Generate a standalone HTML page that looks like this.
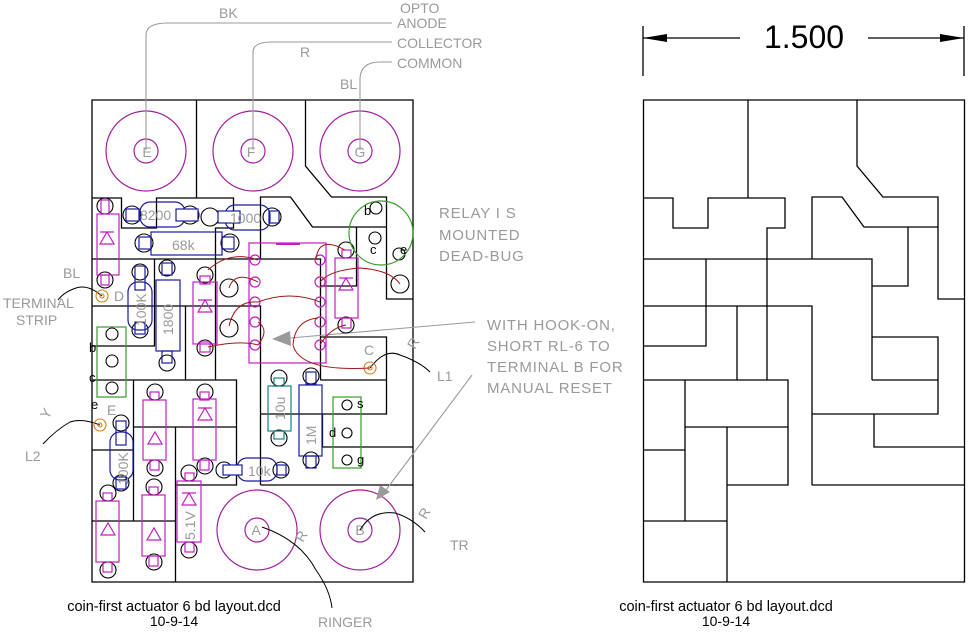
<!DOCTYPE html>
<html><head><meta charset="utf-8"><style>
html,body{margin:0;padding:0;background:#fff;}
svg{display:block;}
text{font-family:"Liberation Sans",sans-serif;}
.g{fill:#9a9a9a;font-size:14px;}
.lbl{fill:#9a9a9a;font-size:15px;letter-spacing:0.8px;}
</style></head><body>
<svg width="968" height="632" viewBox="0 0 968 632" xmlns="http://www.w3.org/2000/svg">
<defs>
<g id="outline" fill="none" stroke="#000" stroke-width="1.3">
<path d="M643.5,100 H964.5 V582 H643.5 Z"/>
<path d="M748,100 V198"/>
<path d="M857,100 V166 L883,197 H938 V299 H964.5"/>
<path d="M643.5,198 H673 V228 H708 V198 H785 V228 H767 V380"/>
<path d="M812,259 V197 H842 L864,227 H938"/>
<path d="M908,227 V286 H872"/>
<path d="M643.5,259 H872 V380"/>
<path d="M706,259 V346 H643.5"/>
<path d="M643.5,306 H812 V485"/>
<path d="M737,306 V380"/>
<path d="M643.5,380 H788 V485 H727"/>
<path d="M872,337 H938 V414 H812"/>
<path d="M872,380 H938"/>
<path d="M874,414 V447 H964.5"/>
<path d="M812,485 H964.5"/>
<path d="M685,380 V521"/>
<path d="M685,427 H788"/>
<path d="M727,427 V582"/>
<path d="M643.5,450 H685"/>
<path d="M643.5,521 H727"/>
</g>
</defs>

<!-- RIGHT BOARD -->
<use href="#outline"/>
<g stroke="#000" stroke-width="1.3" fill="#000">
<line x1="643" y1="26" x2="643" y2="76"/>
<line x1="964" y1="26" x2="964" y2="76"/>
<line x1="643" y1="38" x2="740" y2="38"/>
<line x1="868" y1="38" x2="964" y2="38"/>
<path d="M643,38 L667,34 L667,42 Z" stroke="none"/>
<path d="M964,38 L940,34 L940,42 Z" stroke="none"/>
</g>
<text x="804" y="48" font-size="32" text-anchor="middle" fill="#000">1.500</text>
<text x="726" y="611" font-size="14.5" text-anchor="middle" fill="#000">coin-first actuator 6 bd layout.dcd</text>
<text x="726" y="626" font-size="14" text-anchor="middle" fill="#000">10-9-14</text>

<!-- LEFT BOARD -->
<use href="#outline" transform="translate(-551.5,0)"/>
<text x="174" y="611" font-size="14.5" text-anchor="middle" fill="#000">coin-first actuator 6 bd layout.dcd</text>
<text x="174" y="626" font-size="14" text-anchor="middle" fill="#000">10-9-14</text>

<!-- big terminal circles -->
<g fill="none" stroke="#a020a0" stroke-width="1.2">
<circle cx="146" cy="151" r="40"/><circle cx="146" cy="151" r="12"/>
<circle cx="253" cy="151" r="40"/><circle cx="253" cy="151" r="12"/>
<circle cx="360" cy="151" r="40"/><circle cx="360" cy="151" r="12"/>
<circle cx="257" cy="530" r="40"/><circle cx="257" cy="530" r="12"/>
<circle cx="360" cy="530" r="40"/><circle cx="360" cy="530" r="12"/>
</g>
<g class="g" text-anchor="middle" font-size="14">
<text x="147" y="157">E</text><text x="251" y="157">F</text><text x="360" y="157">G</text>
<text x="256" y="535">A</text><text x="360" y="535">B</text>
</g>

<!-- gray leaders top -->
<g fill="none" stroke="#9a9a9a" stroke-width="1.1">
<path d="M146,150 V35 Q146,23 168,23 H392"/>
<path d="M253,150 V52 Q253,42 272,42 H392"/>
<path d="M360,150 V78 Q361,62 380,62 H392"/>
<path d="M475,322 L290,338"/>
<path d="M472,375 L380,498"/>
</g>
<path d="M272,339 L290,331 L291,346 Z" fill="#9a9a9a"/>
<path d="M376,500 L380,485 L390,492 Z" fill="#9a9a9a"/>
<g class="g">
<text x="219" y="18">BK</text>
<text x="400" y="13">OPTO</text>
<text x="397" y="28">ANODE</text>
<text x="397" y="48">COLLECTOR</text>
<text x="397" y="68">COMMON</text>
<text x="300" y="57">R</text>
<text x="340" y="89">BL</text>
<text x="63" y="278">BL</text>
<text x="3" y="308">TERMINAL</text>
<text x="16" y="325">STRIP</text>
<text x="25" y="461">L2</text>
<text x="437" y="381">L1</text>
<text x="450" y="550">TR</text>
<text x="318" y="627">RINGER</text>
<text x="114" y="301">D</text>
<text x="107" y="415">E</text>
<text x="364" y="355">C</text>
<text transform="translate(48,420) rotate(-60)">Y</text>
<text transform="translate(415,350) rotate(-60)">R</text>
<text transform="translate(426,520) rotate(-60)">R</text>
<text transform="translate(303,543) rotate(-60)">R</text>
</g>
<g class="lbl">
<text x="439" y="218">RELAY I S</text>
<text x="439" y="240">MOUNTED</text>
<text x="439" y="261">DEAD-BUG</text>
<text x="487" y="330">WITH HOOK-ON,</text>
<text x="487" y="351">SHORT RL-6 TO</text>
<text x="487" y="372">TERMINAL B FOR</text>
<text x="487" y="393">MANUAL RESET</text>
</g>

<!-- black leader curves -->
<g fill="none" stroke="#000" stroke-width="1">
<path d="M102,296 Q88,284 76,288 Q64,292 58,300"/>
<path d="M100,425 Q82,418 70,422 Q56,430 43,444"/>
<path d="M370,368 Q385,348 400,355 Q420,362 430,372"/>
<path d="M360,530 Q372,510 395,513 Q412,518 425,532"/>
<path d="M262,527 Q300,540 316,570 Q330,590 332,608"/>
</g>

<!-- pads -->
<g fill="none" stroke="#000" stroke-width="1.1">
<circle cx="132" cy="215" r="9"/><circle cx="190" cy="215" r="9"/>
<circle cx="210" cy="217" r="9"/><circle cx="272" cy="217" r="9"/>
<circle cx="144" cy="243" r="9"/><circle cx="230" cy="243" r="9"/>
<circle cx="105" cy="206" r="8"/><circle cx="105" cy="280" r="8"/>
<circle cx="140" cy="272" r="8"/><circle cx="140" cy="330" r="8"/>
<circle cx="167" cy="268" r="8"/><circle cx="167" cy="363" r="8"/>
<circle cx="205" cy="275" r="8"/><circle cx="205" cy="348" r="8"/>
<circle cx="229" cy="288" r="9"/><circle cx="229" cy="328" r="9"/>
<circle cx="346" cy="250" r="8"/><circle cx="346" cy="325" r="8"/>
<circle cx="400" cy="284" r="9"/>
<circle cx="376" cy="208" r="6"/><circle cx="375" cy="238" r="6"/><circle cx="399" cy="254" r="6"/>
<circle cx="112" cy="334" r="6"/><circle cx="112" cy="361" r="6"/><circle cx="112" cy="388" r="6"/>
<circle cx="279" cy="378" r="8"/><circle cx="279" cy="438" r="8"/>
<circle cx="311" cy="376" r="8"/><circle cx="311" cy="460" r="8"/>
<circle cx="347" cy="405" r="5"/><circle cx="347" cy="433" r="5"/><circle cx="347" cy="460" r="5"/>
<circle cx="155" cy="392" r="8"/><circle cx="155" cy="468" r="8"/>
<circle cx="205" cy="392" r="8"/><circle cx="205" cy="466" r="8"/>
<circle cx="121" cy="423" r="8"/><circle cx="121" cy="483" r="8"/>
<circle cx="108" cy="493" r="8"/><circle cx="108" cy="570" r="8"/>
<circle cx="154" cy="487" r="8"/><circle cx="154" cy="562" r="8"/>
<circle cx="189" cy="473" r="8"/><circle cx="189" cy="550" r="8"/>
<circle cx="224" cy="470" r="8"/><circle cx="281" cy="470" r="8"/>
</g>

<!-- blue resistors -->
<g fill="none" stroke="#1a1aa0" stroke-width="1.2">
<rect x="140" y="202" width="45" height="25" rx="10"/>
<rect x="126" y="209" width="13" height="12" fill="#fff"/><rect x="176" y="209" width="22" height="12" fill="#fff"/>
<rect x="225" y="205" width="45" height="25" rx="10"/>
<rect x="218" y="211" width="22" height="12" fill="#fff"/><rect x="269" y="211" width="10" height="12"/>
<rect x="151" y="232" width="71" height="23"/>
<rect x="139" y="237" width="12" height="12"/><rect x="222" y="237" width="12" height="12"/>
<rect x="128" y="282" width="24" height="48" rx="10"/>
<rect x="135" y="266" width="10" height="24"/><rect x="135" y="322" width="10" height="12"/>
<rect x="156" y="280" width="24" height="71"/>
<rect x="162" y="263" width="10" height="12"/><rect x="162" y="351" width="10" height="12"/>
<rect x="299" y="385" width="23" height="71"/>
<rect x="306" y="372" width="10" height="12"/><rect x="306" y="456" width="10" height="12"/>
<rect x="110" y="432" width="23" height="48" rx="10"/>
<rect x="116" y="421" width="10" height="24"/><rect x="116" y="477" width="10" height="12"/>
<rect x="237" y="458" width="40" height="23" rx="10"/>
<rect x="223" y="465" width="19" height="10" fill="#fff"/><rect x="277" y="465" width="9" height="10"/>
</g>
<g fill="none" stroke="#1a8080" stroke-width="1.2">
<rect x="268" y="386" width="23" height="45"/>
<rect x="274" y="378" width="10" height="8"/><rect x="274" y="431" width="10" height="8"/>
</g>
<g class="g" font-size="14">
<text x="140" y="220">8200</text>
<text x="230" y="223">1000</text>
<text x="172" y="250">68k</text>
<text x="248" y="476">10k</text>
<text transform="translate(146,326) rotate(-90)">100K</text>
<text transform="translate(173,335) rotate(-90)">1800</text>
<text transform="translate(285,420) rotate(-90)">10u</text>
<text transform="translate(316,445) rotate(-90)">1M</text>
<text transform="translate(128,485) rotate(-90)">100K</text>
<text transform="translate(195,540) rotate(-90)">5.1V</text>
</g>

<!-- magenta diodes -->
<g fill="none" stroke="#c020c0" stroke-width="1.2">
<rect x="97" y="214" width="22" height="61"/><rect x="101" y="200" width="8" height="14"/><rect x="101" y="275" width="8" height="10"/>
<path d="M100,244 L107,232 L114,244 Z M100,232 H114"/>
<rect x="193" y="282" width="24" height="62"/><rect x="200" y="276" width="10" height="8"/><rect x="200" y="342" width="10" height="10"/>
<path d="M198,312 L205,300 L212,312 Z M198,300 H212"/>
<rect x="335" y="258" width="23" height="60"/><rect x="342" y="250" width="9" height="8"/><rect x="342" y="318" width="9" height="10"/>
<path d="M339,290 L346,278 L353,290 Z M339,278 H353"/>
<rect x="143" y="400" width="23" height="60"/><rect x="150" y="392" width="9" height="8"/><rect x="150" y="460" width="9" height="10"/>
<path d="M148,444 L155,432 L162,444 Z M148,444 H162"/>
<rect x="193" y="399" width="23" height="61"/><rect x="200" y="392" width="9" height="8"/><rect x="200" y="460" width="9" height="10"/>
<path d="M198,420 L205,408 L212,420 Z M198,408 H212"/>
<rect x="96" y="501" width="23" height="61"/><rect x="103" y="493" width="9" height="8"/><rect x="103" y="562" width="9" height="10"/>
<path d="M101,535 L108,523 L115,535 Z M101,535 H115"/>
<rect x="142" y="495" width="23" height="61"/><rect x="149" y="487" width="9" height="8"/><rect x="149" y="556" width="9" height="10"/>
<path d="M147,540 L154,528 L161,540 Z M147,540 H161"/>
<rect x="177" y="481" width="24" height="61"/><rect x="185" y="473" width="9" height="8"/><rect x="185" y="542" width="9" height="10"/>
<path d="M182,505 L189,493 L196,505 Z M182,493 H196"/>
<!-- IC -->
<rect x="249" y="243" width="77" height="120"/>
<line x1="276" y1="244" x2="300" y2="244" stroke-width="2"/>
<circle cx="255" cy="260" r="5"/><circle cx="255" cy="282" r="5"/><circle cx="255" cy="302" r="5"/><circle cx="255" cy="322" r="5"/><circle cx="255" cy="345" r="5"/>
<circle cx="320" cy="260" r="5"/><circle cx="320" cy="282" r="5"/><circle cx="320" cy="302" r="5"/><circle cx="320" cy="322" r="5"/><circle cx="320" cy="345" r="5"/>
</g>

<!-- green parts -->
<g fill="none" stroke="#3a9a2a" stroke-width="1.2">
<circle cx="381" cy="233" r="32"/>
<rect x="97" y="327" width="29" height="70"/>
<rect x="333" y="397" width="28" height="71"/>
</g>
<g font-size="13" fill="#000">
<text x="364" y="215">b</text><text x="370" y="254">c</text><text x="400" y="254">e</text>
<text x="89" y="352">b</text><text x="89" y="382">c</text><text x="91" y="409">e</text>
<text x="357" y="408">s</text><text x="329" y="437">d</text><text x="357" y="464">g</text>
</g>

<!-- orange terminals -->
<g fill="none" stroke="#d08020" stroke-width="1.1">
<circle cx="102" cy="296" r="6"/><circle cx="102" cy="296" r="2"/>
<circle cx="370" cy="368" r="6"/><circle cx="370" cy="368" r="2"/>
<circle cx="100" cy="425" r="6"/><circle cx="100" cy="425" r="2"/>
</g>

<!-- red wires -->
<g fill="none" stroke="#a01818" stroke-width="1">
<path d="M208,270 Q230,250 258,260"/>
<path d="M229,288 Q235,270 258,282"/>
<path d="M229,326 Q235,300 258,302 Q290,290 320,302"/>
<path d="M208,347 Q240,340 258,345 Q270,330 258,322"/>
<path d="M316,260 Q318,235 345,250"/>
<path d="M320,282 Q330,270 360,268 Q390,270 400,284"/>
<path d="M318,318 Q295,320 293,345 Q300,372 370,368"/>
<path d="M320,345 Q330,328 346,325"/>
</g>
</svg>
</body></html>
